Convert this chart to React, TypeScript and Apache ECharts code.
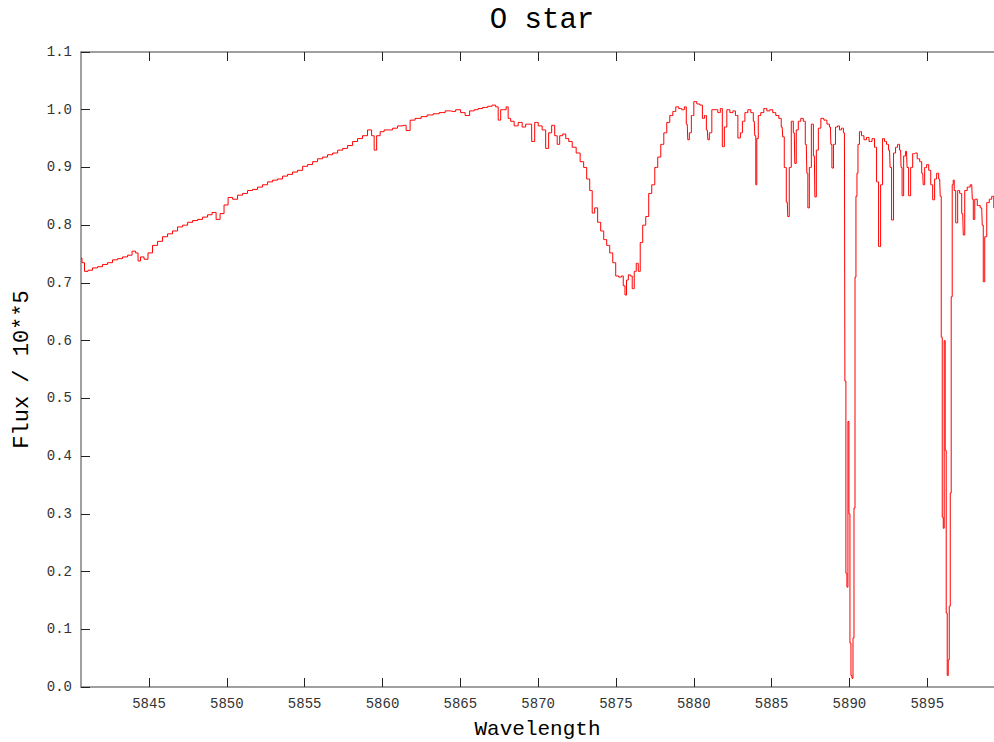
import React, { useEffect, useRef } from "react";
import * as echarts from "echarts";

const TITLE = "O star";
const X_NAME = "Wavelength";
const Y_NAME = "Flux / 10**5";
const X_TICKS = [5845, 5850, 5855, 5860, 5865, 5870, 5875, 5880, 5885, 5890, 5895];
const X_MIN = 5840.63;
const X_MAX = 5899.29;

const wavelength = [
  5840.63, 5840.76, 5840.95, 5841.21, 5841.53, 5841.85, 5842.17, 5842.49, 5842.82, 5843.14,
  5843.46, 5843.78, 5844.04, 5844.23, 5844.36, 5844.55, 5844.81, 5845.06, 5845.39, 5845.71,
  5846.03, 5846.35, 5846.67, 5847.0, 5847.32, 5847.64, 5847.96, 5848.28, 5848.6, 5848.92,
  5849.18, 5849.44, 5849.69, 5849.95, 5850.21, 5850.53, 5850.85, 5851.17, 5851.49, 5851.81,
  5852.13, 5852.46, 5852.78, 5853.1, 5853.42, 5853.74, 5854.06, 5854.38, 5854.71, 5855.03,
  5855.35, 5855.67, 5855.99, 5856.31, 5856.63, 5856.96, 5857.28, 5857.6, 5857.92, 5858.24,
  5858.56, 5858.88, 5859.2, 5859.4, 5859.53, 5859.72, 5859.98, 5860.23, 5860.49, 5860.81,
  5861.13, 5861.39, 5861.65, 5861.9, 5862.29, 5862.67, 5863.06, 5863.45, 5863.83, 5864.22,
  5864.54, 5864.86, 5865.18, 5865.44, 5865.76, 5866.02, 5866.27, 5866.6, 5866.92, 5867.17,
  5867.37, 5867.5, 5867.69, 5867.88, 5868.01, 5868.14, 5868.33, 5868.59, 5868.85, 5869.1,
  5869.3, 5869.49, 5869.68, 5869.88, 5870.13, 5870.39, 5870.58, 5870.77, 5870.97, 5871.16,
  5871.29, 5871.48, 5871.68, 5871.87, 5872.06, 5872.32, 5872.57, 5872.83, 5873.02, 5873.22,
  5873.41, 5873.54, 5873.73, 5873.92, 5874.12, 5874.31, 5874.5, 5874.7, 5874.89, 5875.08,
  5875.28, 5875.41, 5875.53, 5875.63, 5875.73, 5875.86, 5875.98, 5876.11, 5876.24, 5876.37,
  5876.5, 5876.62, 5876.82, 5877.01, 5877.2, 5877.4, 5877.59, 5877.78, 5877.98, 5878.17,
  5878.36, 5878.56, 5878.75, 5878.94, 5879.13, 5879.33, 5879.46, 5879.58, 5879.65, 5879.78,
  5879.91, 5880.1, 5880.29, 5880.49, 5880.62, 5880.75, 5880.87, 5880.94, 5881.06, 5881.26,
  5881.45, 5881.64, 5881.77, 5881.9, 5882.03, 5882.22, 5882.42, 5882.61, 5882.74, 5882.93,
  5883.06, 5883.19, 5883.38, 5883.57, 5883.76, 5883.89, 5883.95, 5884.02, 5884.08, 5884.21,
  5884.4, 5884.6, 5884.79, 5884.98, 5885.17, 5885.37, 5885.56, 5885.68, 5885.75, 5885.88,
  5886.01, 5886.07, 5886.2, 5886.33, 5886.46, 5886.52, 5886.65, 5886.78, 5886.97, 5887.1,
  5887.23, 5887.3, 5887.36, 5887.49, 5887.62, 5887.75, 5887.81, 5887.94, 5888.07, 5888.26,
  5888.46, 5888.65, 5888.78, 5888.84, 5888.91, 5889.04, 5889.17, 5889.3, 5889.42, 5889.55,
  5889.68, 5889.74, 5889.81, 5889.87, 5889.94, 5890.0, 5890.07, 5890.13, 5890.2, 5890.26,
  5890.33, 5890.39, 5890.45, 5890.52, 5890.58, 5890.71, 5890.84, 5891.03, 5891.16, 5891.36,
  5891.55, 5891.68, 5891.81, 5891.94, 5892.07, 5892.19, 5892.32, 5892.45, 5892.58, 5892.65,
  5892.77, 5892.9, 5893.03, 5893.16, 5893.29, 5893.35, 5893.42, 5893.55, 5893.67, 5893.74,
  5893.87, 5894.0, 5894.13, 5894.26, 5894.45, 5894.58, 5894.71, 5894.77, 5894.9, 5895.03,
  5895.16, 5895.29, 5895.41, 5895.54, 5895.67, 5895.8, 5895.87, 5895.93, 5896.0, 5896.06,
  5896.12, 5896.19, 5896.25, 5896.32, 5896.38, 5896.45, 5896.51, 5896.57, 5896.64, 5896.7,
  5896.77, 5896.89, 5897.02, 5897.15, 5897.28, 5897.35, 5897.47, 5897.67, 5897.86, 5897.93,
  5897.99, 5898.12, 5898.31, 5898.5, 5898.57, 5898.63, 5898.76, 5898.89, 5899.08, 5899.21,
  5899.34,
];

const flux = [
  0.743, 0.735, 0.72, 0.722, 0.726, 0.728, 0.732, 0.735, 0.74, 0.742,
  0.745, 0.748, 0.755, 0.752, 0.738, 0.745, 0.741, 0.752, 0.765, 0.772,
  0.78, 0.785, 0.79, 0.797, 0.8, 0.805, 0.808, 0.81, 0.814, 0.818,
  0.822, 0.81, 0.82, 0.835, 0.848, 0.845, 0.852, 0.855, 0.86, 0.862,
  0.866, 0.87, 0.875, 0.878, 0.88, 0.885, 0.888, 0.892, 0.895, 0.902,
  0.905, 0.91, 0.915, 0.918, 0.922, 0.925, 0.93, 0.933, 0.938, 0.945,
  0.95, 0.955, 0.965, 0.955, 0.93, 0.955, 0.962, 0.965, 0.965, 0.968,
  0.972, 0.973, 0.964, 0.982, 0.985, 0.988, 0.991, 0.993, 0.995, 0.998,
  0.997, 1.0, 0.995, 0.99, 0.998, 1.0, 1.002, 1.004, 1.006, 1.008,
  1.005, 0.982, 1.0, 1.0, 1.005, 0.985, 0.98, 0.972, 0.978, 0.97,
  0.975, 0.975, 0.945, 0.978, 0.972, 0.965, 0.933, 0.96, 0.973, 0.955,
  0.94, 0.955, 0.958, 0.95, 0.945, 0.935, 0.925, 0.91, 0.9, 0.88,
  0.86, 0.821, 0.83, 0.805, 0.79, 0.775, 0.765, 0.752, 0.735, 0.712,
  0.71, 0.712, 0.695, 0.679, 0.705, 0.714, 0.712, 0.69, 0.72, 0.734,
  0.72, 0.77, 0.8, 0.815, 0.855, 0.87, 0.9, 0.918, 0.94, 0.96,
  0.978, 0.99, 0.997, 1.005, 1.002, 1.0, 1.005, 0.975, 0.948, 0.96,
  0.99, 1.014, 1.01, 1.008, 0.985, 0.99, 0.965, 0.948, 0.96, 1.0,
  1.0, 0.995, 1.002, 0.936, 0.97, 1.0, 0.995, 0.998, 0.99, 0.951,
  0.96, 0.98, 0.995, 1.0, 0.995, 0.98, 0.955, 0.87, 0.95, 0.99,
  0.995, 1.002, 0.998, 1.0, 0.995, 0.99, 0.985, 0.97, 0.953, 0.9,
  0.84, 0.815, 0.9, 0.98, 0.96, 0.907, 0.965, 0.98, 0.985, 0.98,
  0.94, 0.89, 0.83, 0.9, 0.975, 0.92, 0.849, 0.93, 0.968, 0.985,
  0.982, 0.975, 0.97, 0.94, 0.899, 0.94, 0.97, 0.972, 0.965, 0.968,
  0.96, 0.53, 0.197, 0.173, 0.46, 0.3, 0.076, 0.02, 0.015, 0.085,
  0.31, 0.71, 0.85, 0.89, 0.94, 0.962, 0.955, 0.948, 0.952, 0.945,
  0.95, 0.935, 0.875, 0.763, 0.87, 0.95, 0.945, 0.94, 0.93, 0.9,
  0.809, 0.925, 0.935, 0.94, 0.93, 0.9, 0.851, 0.92, 0.928, 0.9,
  0.851, 0.9, 0.924, 0.925, 0.915, 0.91, 0.89, 0.87, 0.9, 0.905,
  0.895, 0.87, 0.844, 0.88, 0.89, 0.88, 0.85, 0.606, 0.294, 0.275,
  0.6, 0.41, 0.128, 0.02, 0.047, 0.14, 0.336, 0.676, 0.87, 0.878,
  0.86, 0.804, 0.86, 0.855, 0.82, 0.783, 0.86, 0.866, 0.87, 0.845,
  0.81, 0.845, 0.834, 0.83, 0.8, 0.702, 0.78, 0.839, 0.845, 0.85,
  0.83,
];

const FONT = "'Liberation Mono', 'DejaVu Sans Mono', monospace";

export default function App() {
  const ref = useRef<HTMLDivElement>(null);
  useEffect(() => {
    if (!ref.current) return;
    const chart = echarts.init(ref.current, null, { renderer: "svg" });
    const points = wavelength.map((w, i) => [w, flux[i]]);
    const tickStyle = { show: true, inside: true, length: 9, lineStyle: { color: "#222", width: 1 } };
    chart.setOption({
      animation: false,
      backgroundColor: "#fff",
      graphic: [
        {
          type: "text",
          x: 542,
          y: 20,
          style: {
            text: TITLE,
            font: `29px ${FONT}`,
            fill: "#000",
            textAlign: "center",
            textVerticalAlign: "middle",
          },
        },
      ],
      grid: { left: 81, top: 52, right: 0, bottom: 55, containLabel: false, outerBoundsMode: "none" },
      xAxis: [
        {
          type: "value",
          min: X_MIN,
          max: X_MAX,
          name: X_NAME,
          nameLocation: "middle",
          nameGap: 31,
          nameTextStyle: { fontFamily: FONT, fontSize: 21, color: "#000", lineHeight: 22 },
          axisLine: { show: true, lineStyle: { color: "#808080", width: 1.5 } },
          axisTick: { ...tickStyle, customValues: X_TICKS },
          axisLabel: {
            customValues: X_TICKS,
            margin: 10,
            fontFamily: FONT,
            fontSize: 14,
            color: "#333",
            formatter: (v: number) => String(Math.round(v)),
          },
          splitLine: { show: false },
        },
        {
          type: "value",
          position: "top",
          min: X_MIN,
          max: X_MAX,
          axisLine: { show: true, lineStyle: { color: "#808080", width: 1.5 } },
          axisTick: { ...tickStyle, customValues: X_TICKS },
          axisLabel: { show: false },
          splitLine: { show: false },
        },
      ],
      yAxis: {
        type: "value",
        min: 0,
        max: 1.1,
        interval: 0.1,
        name: Y_NAME,
        nameLocation: "middle",
        nameGap: 48,
        nameTextStyle: { fontFamily: FONT, fontSize: 22, color: "#000" },
        axisLine: { show: true, lineStyle: { color: "#808080", width: 1.5 } },
        axisTick: tickStyle,
        axisLabel: {
          margin: 9,
          fontFamily: FONT,
          fontSize: 14,
          color: "#333",
          formatter: (v: number) => v.toFixed(1),
        },
        splitLine: { show: false },
      },
      series: [
        {
          type: "line",
          data: points,
          step: "middle",
          showSymbol: false,
          symbol: "none",
          lineStyle: { color: "#ff0000", width: 1 },
          clip: true,
        },
      ],
    });
    return () => chart.dispose();
  }, []);
  return <div ref={ref} style={{ width: 994, height: 742, position: "absolute", left: 0, top: 0 }} />;
}
